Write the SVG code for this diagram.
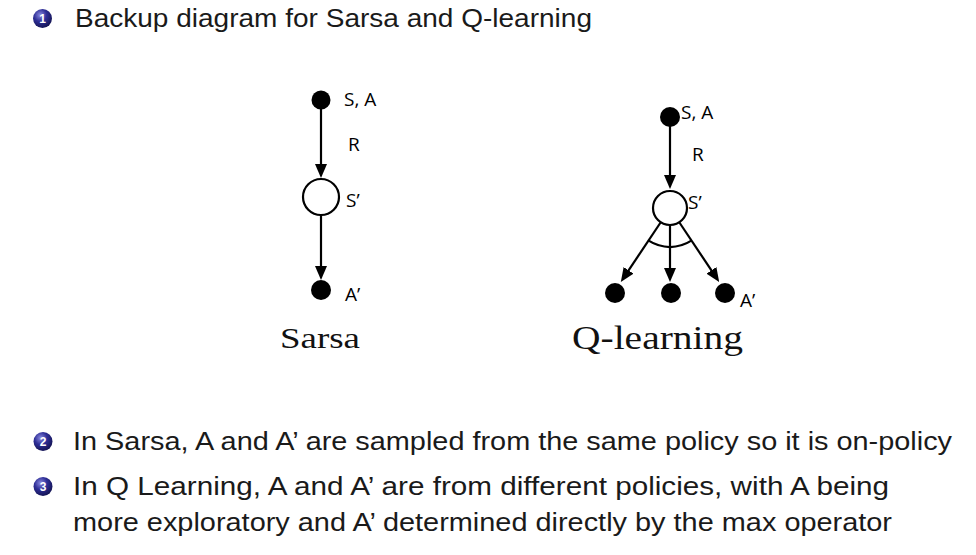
<svg xmlns="http://www.w3.org/2000/svg" width="976" height="555" viewBox="0 0 976 555">
<style>
.body{font-family:"Liberation Sans",Arial,sans-serif;font-size:25px;fill:#1a1a1a}
.lbl{font-family:"Open Sans","Liberation Sans",sans-serif;font-size:19px;fill:#000}
.cap{font-family:"Liberation Serif","Times New Roman",serif;fill:#111}
.num{font-family:"Liberation Sans",Arial,sans-serif;font-size:12px;font-weight:bold;fill:#fff;text-anchor:middle}
.edge{stroke:#000;stroke-width:2.2;fill:none}
.dot{fill:#000}
.open{fill:#fff;stroke:#000;stroke-width:2.2}
</style>
<defs>
<radialGradient id="ball" cx="0.38" cy="0.32" r="0.75">
<stop offset="0" stop-color="#8a8ae0"/>
<stop offset="0.45" stop-color="#2e2e96"/>
<stop offset="1" stop-color="#10104a"/>
</radialGradient>
<marker id="ah" viewBox="0 0 14 12" refX="4" refY="6" markerWidth="14" markerHeight="12" orient="auto" markerUnits="userSpaceOnUse">
<path d="M0,0 L14,6 L0,12 z" fill="#000"/>
</marker>
</defs>
<rect width="976" height="555" fill="#fff"/>

<g id="title">
<circle cx="42.5" cy="18.5" r="9.5" fill="url(#ball)"/>
<text class="num" x="42.5" y="22.8">1</text>
<text class="body" x="75" y="27" textLength="517" lengthAdjust="spacingAndGlyphs">Backup diagram for Sarsa and Q-learning</text>
</g>

<g id="connectors">
<line class="edge" x1="321" y1="100" x2="321" y2="168" marker-end="url(#ah)"/>
<line class="edge" x1="321" y1="215" x2="321" y2="270" marker-end="url(#ah)"/>
<line class="edge" x1="670" y1="117" x2="670" y2="179" marker-end="url(#ah)"/>
<line class="edge" x1="660.75" y1="222.26" x2="626.4" y2="273.6" marker-end="url(#ah)"/>
<line class="edge" x1="670" y1="225" x2="670" y2="272" marker-end="url(#ah)"/>
<line class="edge" x1="679.25" y1="222.26" x2="713.6" y2="273.6" marker-end="url(#ah)"/>
<path class="edge" d="M648.7 240.7 A39 39 0 0 0 691.3 240.7"/>
</g>

<g id="sarsa-sa">
<circle class="dot" cx="321" cy="100" r="9.5"/>
<text class="lbl" x="344" y="106">S, A</text>
</g>
<text class="lbl" x="348" y="151">R</text>
<g id="sarsa-s2">
<circle class="open" cx="321" cy="197" r="18"/>
<text class="lbl" x="346" y="207">S’</text>
</g>
<g id="sarsa-a2">
<circle class="dot" cx="321" cy="290" r="10"/>
<text class="lbl" x="345" y="301">A’</text>
</g>
<text class="cap" x="280" y="348" font-size="30" textLength="80" lengthAdjust="spacingAndGlyphs">Sarsa</text>

<g id="q-sa">
<circle class="dot" cx="670" cy="117" r="10"/>
<text class="lbl" x="681" y="119">S, A</text>
</g>
<text class="lbl" x="692" y="161">R</text>
<g id="q-s2">
<circle class="open" cx="670" cy="208" r="17"/>
<text class="lbl" x="688" y="209">S’</text>
</g>
<g id="q-a1"><circle class="dot" cx="615" cy="293" r="10"/></g>
<g id="q-a2"><circle class="dot" cx="671" cy="293" r="10"/></g>
<g id="q-a3">
<circle class="dot" cx="725" cy="293" r="10"/>
<text class="lbl" x="740" y="307">A’</text>
</g>
<text class="cap" x="572" y="349" font-size="33" textLength="171" lengthAdjust="spacingAndGlyphs">Q-learning</text>

<g id="item2">
<circle cx="43" cy="441.5" r="9.5" fill="url(#ball)"/>
<text class="num" x="43" y="445.8">2</text>
<text class="body" x="73" y="450" textLength="879" lengthAdjust="spacingAndGlyphs">In Sarsa, A and A’ are sampled from the same policy so it is on-policy</text>
</g>
<g id="item3">
<circle cx="43" cy="486.5" r="9.5" fill="url(#ball)"/>
<text class="num" x="43" y="490.8">3</text>
<text class="body" x="73" y="495" textLength="816" lengthAdjust="spacingAndGlyphs">In Q Learning, A and A’ are from different policies, with A being</text>
<text class="body" x="73" y="531" textLength="819" lengthAdjust="spacingAndGlyphs">more exploratory and A’ determined directly by the max operator</text>
</g>
</svg>
